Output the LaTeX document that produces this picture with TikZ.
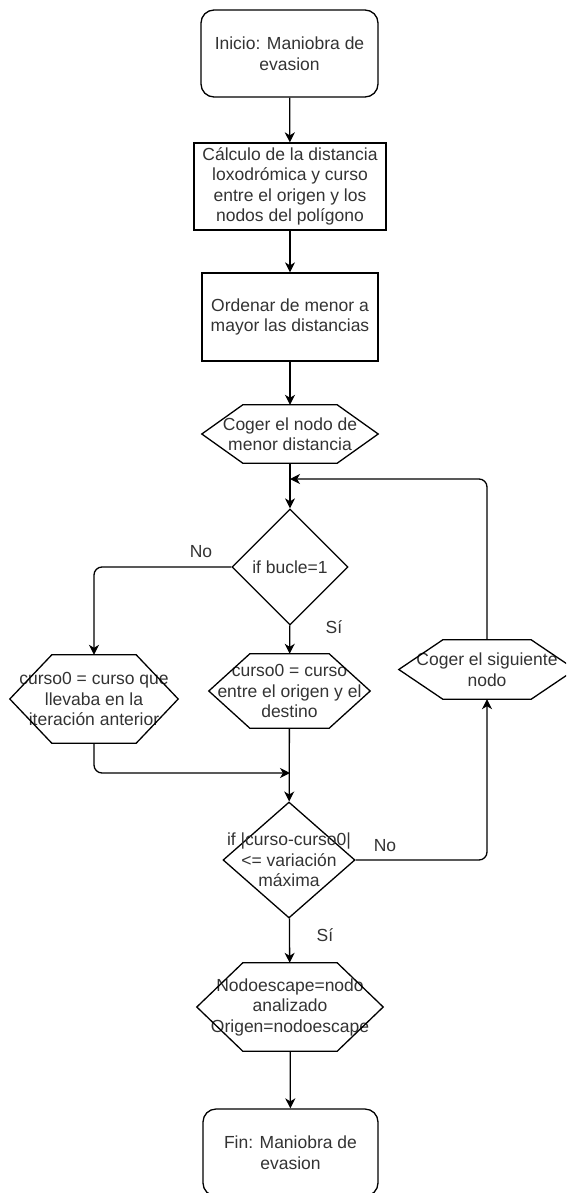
\documentclass[tikz,border=0pt]{standalone}
\usepackage{fontspec}
\setmainfont{Liberation Sans}
\usetikzlibrary{shapes.geometric,arrows.meta,calc}
\definecolor{txt}{HTML}{333333}
\begin{document}
\begin{tikzpicture}[x=1pt,y=-1pt,
  every node/.style={font=\fontsize{17.5}{20.5}\selectfont, text=txt, align=center},
  ln/.style={line width=1.3pt, draw=black},
  arr/.style={ln, -{Stealth[length=10pt,width=10pt,inset=3pt]}},
  termbox/.style={ln, rounded corners=13pt, inner sep=0pt},
  procbox/.style={ln, inner sep=0pt},
  hexa/.style={inner sep=0pt},
  dia/.style={ln, diamond, inner sep=0pt},
  lbl/.style={inner sep=0pt}]
\useasboundingbox (0,0) rectangle (566,1193);
\clip (0,0) rectangle (566,1193);

\node[termbox, minimum width=177pt, minimum height=87pt] (start) at (289.5,53.5) {Inicio: Maniobra de\\evasion};
\node[procbox, minimum width=192pt, minimum height=87pt] (b2) at (290,186.5) {Cálculo de la distancia\\loxodrómica y curso\\entre el origen y los\\nodos del polígono};
\node[procbox, minimum width=176pt, minimum height=88pt] (b3) at (290,317) {Ordenar de menor a\\mayor las distancias};
\node[hexa, minimum width=176pt, minimum height=58pt] (h1) at (290,434) {Coger el nodo de\\menor distancia};
\node[dia, minimum width=116pt, minimum height=116pt] (d1) at (290,567) {};
\node (d1t) at (d1) {if bucle=1};
\node[hexa, minimum width=168pt, minimum height=88pt] (h2) at (94,699) {curso0 = curso que\\llevaba en la\\iteración anterior};
\node[hexa, minimum width=161pt, minimum height=74pt] (h3) at (289.5,691) {curso0 = curso\\entre el origen y el\\destino};
\node[hexa, minimum width=176pt, minimum height=59pt] (h4) at (487,669.5) {Coger el siguiente\\nodo};
\node[dia, minimum width=132pt, minimum height=116pt] (d2) at (289,860) {};
\node (d2t) at (d2) {if |curso-curso0|\\<= variación\\máxima};
\node[hexa, minimum width=186pt, minimum height=88pt] (h5) at (290,1007) {Nodoescape=nodo\\analizado\\Origen=nodoescape};
\node[termbox, minimum width=175pt, minimum height=87pt] (end) at (290.5,1152.5) {Fin: Maniobra de\\evasion};

\foreach \n/\c in {h1/41,h2/42,h3/41,h4/44,h5/46}
  \draw[ln, line join=miter] (\n.west) -- ($(\n.north west)+(\c,0)$) -- ($(\n.north east)+(-\c,0)$) -- (\n.east) -- ($(\n.south east)+(-\c,0)$) -- ($(\n.south west)+(\c,0)$) -- cycle;

\coordinate (j1) at (290,479);
\coordinate (j2) at (290,773);

\draw[arr] (start) -- (b2);
\draw[arr] (b2) -- (b3);
\draw[arr] (b3) -- (h1);
\draw[arr] (h1) -- (d1);
\draw[arr, rounded corners=8pt] (h4.north) |- (j1);
\draw[arr, rounded corners=8pt] (d1.west) -| (h2.north);
\draw[arr] (d1) -- (h3);
\draw[arr, rounded corners=8pt] (h2.south) |- (j2);
\draw[arr] (h3) -- (d2);
\draw[arr, rounded corners=8pt] (d2.east) -| (h4.south);
\draw[arr] (d2) -- (h5);
\draw[arr] (h5) -- (end);

\node[lbl] (no1) at (201,552) {No};
\node[lbl] (si1) at (334,627) {Sí};
\node[lbl] (no2) at (385,846) {No};
\node[lbl] (si2) at (325,935) {Sí};
\end{tikzpicture}
\end{document}
